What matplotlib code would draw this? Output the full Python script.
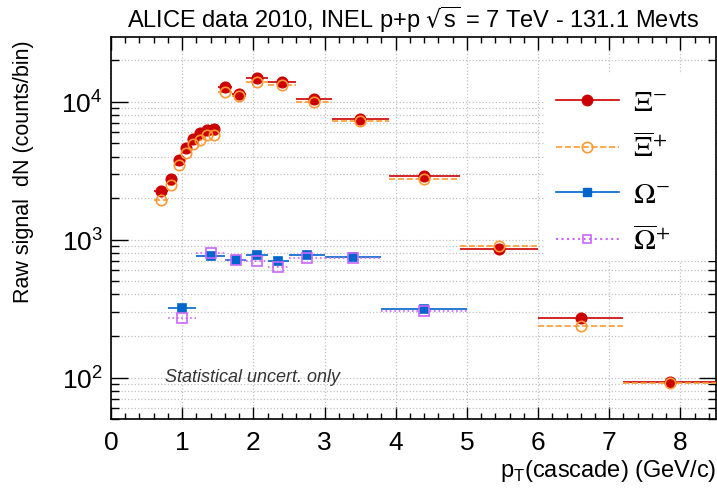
import matplotlib
matplotlib.use('Agg')
import matplotlib.pyplot as plt
from matplotlib.lines import Line2D
from matplotlib.patches import Rectangle
from matplotlib.ticker import LogLocator, MultipleLocator, NullFormatter
import numpy as np

plt.rcParams['font.family'] = ['Liberation Sans', 'DejaVu Sans']

# Xi bins (pT centre, half width) and raw counts
xi_pt = [0.7, 0.85, 0.95, 1.05, 1.15, 1.25, 1.35, 1.45, 1.6, 1.8, 2.05, 2.4, 2.85, 3.5, 4.4, 5.45, 6.6, 7.85]
xi_hw = [0.1, 0.05, 0.05, 0.05, 0.05, 0.05, 0.05, 0.05, 0.1, 0.1, 0.15, 0.2, 0.25, 0.4, 0.5, 0.55, 0.6, 0.65]
xi_minus = [2255, 2735, 3800, 4620, 5400, 5960, 6200, 6370, 12700, 11480, 14850, 13890, 10460, 7450, 2895, 851, 272, 93]
xi_plus = [1927, 2506, 3451, 4247, 4910, 5250, 5745, 5770, 11750, 11000, 13890, 13280, 9885, 7200, 2768, 900, 238, 91]

# Omega bins
om_pt = [1.0, 1.4, 1.75, 2.05, 2.35, 2.75, 3.4, 4.4]
om_hw = [0.2, 0.2, 0.15, 0.15, 0.15, 0.25, 0.4, 0.6]
om_minus = [320, 766, 713, 778, 705, 770, 745, 313]
om_plus = [270, 795, 713, 697, 637, 741, 741, 306]

c_xim = '#cc0000'
c_xip = '#ff9933'
c_omm = '#0066cc'
c_omp = '#cc66ff'

fig = plt.figure(figsize=(7.17, 4.89), dpi=100)
ax = fig.add_axes([0.1548, 0.1411, 0.8438, 0.7812])

def draw(x, xe, y, color, marker, fill, ls, ms):
    eb = ax.errorbar(x, y, xerr=xe, fmt=marker, ms=ms, color=color,
                     mfc=color if fill else 'none', mec=color, mew=1.2,
                     elinewidth=1.2, capsize=0, zorder=3)
    eb[2][0].set_linestyle(ls)

draw(xi_pt, xi_hw, xi_minus, c_xim, 'o', True, '-', 7.5)
draw(xi_pt, xi_hw, xi_plus, c_xip, 'o', False, '--', 7.5)
draw(om_pt, om_hw, om_minus, c_omm, 's', True, '-', 6)
draw(om_pt, om_hw, om_plus, c_omp, 's', False, ':', 6.5)

ax.set_yscale('log')
ax.set_xlim(0, 8.5)
ax.set_ylim(50, 2.95e4)

ax.xaxis.set_major_locator(MultipleLocator(1))
ax.xaxis.set_minor_locator(MultipleLocator(0.2))
ax.yaxis.set_major_locator(LogLocator(base=10))
ax.yaxis.set_minor_locator(LogLocator(base=10, subs=np.arange(2, 10)))
ax.yaxis.set_minor_formatter(NullFormatter())

ax.tick_params(direction='in', which='both', top=True, right=True, labelsize=19, width=1)
ax.tick_params(axis='x', which='major', length=9, pad=8)
ax.tick_params(axis='x', which='minor', length=4.5)
ax.tick_params(axis='y', which='major', length=12, pad=6)
ax.tick_params(axis='y', which='minor', length=6)
for s in ax.spines.values():
    s.set_linewidth(1.2)

ax.grid(True, which='major', axis='x', ls=':', color='#c0c0c0', lw=0.9)
ax.grid(True, which='both', axis='y', ls=':', color='#c0c0c0', lw=0.9)
ax.set_axisbelow(True)

ax.set_title(r'ALICE data 2010, INEL p+p $\sqrt{\mathdefault{s}}$ = 7 TeV - 131.1 Mevts', fontsize=17, pad=7)
ax.set_xlabel(r'p$_\mathdefault{T}$(cascade) (GeV/c)', fontsize=17, loc='right')
ax.xaxis.set_label_coords(1.0, -0.1)
ax.set_ylabel('Raw signal  dN (counts/bin)', fontsize=15.5, loc='top')
ax.yaxis.set_label_coords(-0.127, 0.995)

ax.text(0.09, 0.11, 'Statistical uncert. only', transform=ax.transAxes, fontsize=13,
        style='italic', color='#333333', va='center')

# white legend area (hides the grid like the reference pad)
ax.add_patch(Rectangle((0.717, 0.414), 0.283, 0.489, transform=ax.transAxes,
                       facecolor='white', edgecolor='none', zorder=1.5))

handles = [
    Line2D([], [], color=c_xim, ls='-', lw=1.2, marker='o', ms=7.5, mfc=c_xim, mec=c_xim),
    Line2D([], [], color=c_xip, ls='--', lw=1.2, marker='o', ms=7.5, mfc='none', mec=c_xip, mew=1.2),
    Line2D([], [], color=c_omm, ls='-', lw=1.2, marker='s', ms=5.5, mfc=c_omm, mec=c_omm),
    Line2D([], [], color=c_omp, ls=':', lw=1.5, marker='s', ms=6, mfc='none', mec=c_omp, mew=1.2),
]
labels = [r'$\Xi^{-}$', r'$\overline{\Xi}^{+}$', r'$\Omega^{-}$', r'$\overline{\Omega}^{+}$']
leg = ax.legend(handles, labels, loc='upper left', bbox_to_anchor=(0.711, 0.905), borderaxespad=0,
                fontsize=21, handlelength=2.16, handletextpad=0.48, labelspacing=0.6,
                frameon=False, borderpad=0.5)
for t in leg.get_texts():
    t.set_math_fontfamily('stix')

fig.savefig('out.png', dpi=100)
